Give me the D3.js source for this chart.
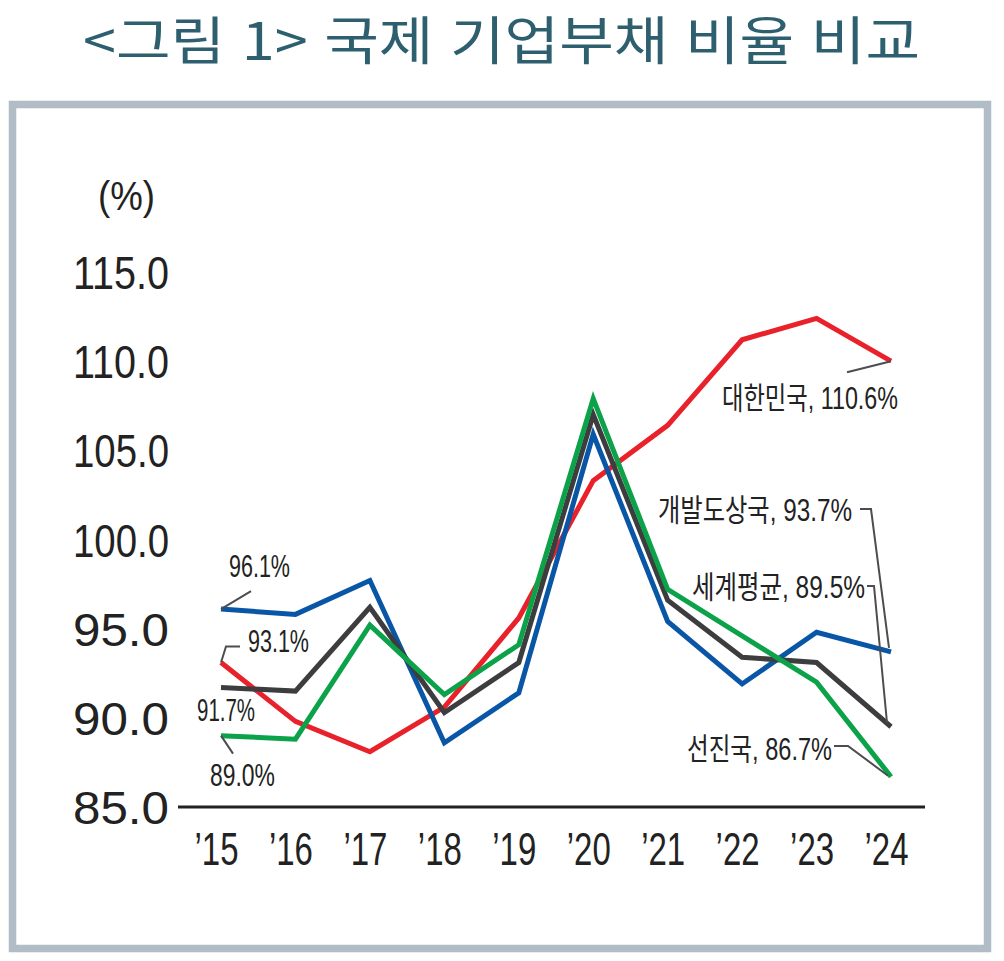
<!DOCTYPE html>
<html lang="ko">
<head>
<meta charset="utf-8">
<script src="https://cdn.jsdelivr.net/npm/d3@7"></script>
<style>
	html, body { margin: 0; padding: 0; background: #fff; }
	svg { display: block; }
</style>
</head>
<body>
<div id="chart"></div>
<script>
// ===== データ =====
const years = ['’15', '’16', '’17', '’18', '’19', '’20', '’21', '’22', '’23', '’24'];
const korea     = [93.1, 89.8, 88.1, 90.6, 95.6, 103.3, 106.4, 111.2, 112.4, 110.0];
const emerging  = [96.1, 95.8, 97.7, 88.6, 91.4, 105.9, 95.4, 91.9, 94.8, 93.7];
const world     = [91.7, 91.5, 96.2, 90.3, 93.1, 107.0, 96.6, 93.4, 93.1, 89.5];
const advanced  = [89.0, 88.8, 95.2, 91.3, 94.1, 107.9, 97.2, 94.6, 92.0, 86.7];
const yTicks = [85, 90, 95, 100, 105, 110, 115];
const seriesNames = ['대한민국', '개발도상국', '세계평균', '선진국'];
const endLabels = ['대한민국, 110.6%', '개발도상국, 93.7%', '세계평균, 89.5%', '선진국, 86.7%'];
const startLabels = ['93.1%', '96.1%', '91.7%', '89.0%'];

const W = 1004, H = 961;
const svg = d3.select('#chart').append('svg')
	.attr('width', W)
	.attr('height', H);

// タイトル
svg.append('text')
	.attr('x', 83)
	.attr('y', 60)
	.attr('font-family', '"Noto Sans CJK KR", sans-serif')
	.attr('font-size', 52)
	.attr('fill', '#2d5f6f')
	.attr('textLength', 837)
	.attr('lengthAdjust', 'spacingAndGlyphs')
	.text('<그림 1> 국제 기업부채 비율 비교');

// 枠
svg.append('rect')
	.attr('x', 12.5).attr('y', 104.5)
	.attr('width', 975).attr('height', 844)
	.attr('fill', '#fff')
	.attr('stroke', '#b1bcc7')
	.attr('stroke-width', 7.5);

// ===== スケール =====
const x = d3.scalePoint().domain(years).range([221, 891]);
const y = d3.scaleLinear().domain([85, 115]).range([807, 272]);

const numFont = '"Liberation Sans", Arial, sans-serif';

// 単位
svg.append('text')
	.attr('x', 98).attr('y', 210)
	.attr('font-family', numFont)
	.attr('font-size', 40)
	.attr('fill', '#222')
	.attr('textLength', 57)
	.attr('lengthAdjust', 'spacingAndGlyphs')
	.text('(%)');

// Y軸
const yAxis = svg.append('g')
	.attr('transform', 'translate(169,0)')
	.call(d3.axisLeft(y).tickValues(yTicks).tickSize(0).tickPadding(0).tickFormat(d3.format('.1f')));
yAxis.select('.domain').remove();
yAxis.selectAll('text')
	.attr('font-family', numFont)
	.attr('font-size', 46)
	.attr('fill', '#222')
	.attr('textLength', 96)
	.attr('lengthAdjust', 'spacingAndGlyphs')
	.attr('dy', '0.36em');

// X軸
svg.append('line')
	.attr('x1', 178).attr('x2', 925)
	.attr('y1', y(85)).attr('y2', y(85))
	.attr('stroke', '#222')
	.attr('stroke-width', 3);

const xAxis = svg.append('g')
	.attr('transform', `translate(0,${y(85)})`)
	.call(d3.axisBottom(x).tickSize(0).tickPadding(0));
xAxis.select('.domain').remove();
xAxis.selectAll('text')
	.attr('font-family', numFont)
	.attr('font-size', 47)
	.attr('fill', '#222')
	.attr('textLength', 44)
	.attr('lengthAdjust', 'spacingAndGlyphs')
	.attr('dx', -5)
	.attr('dy', 0)
	.attr('y', 58);

// ===== 折れ線 =====
const line = d3.line()
	.x((d, i) => x(years[i]))
	.y(d => y(d));

const series = [
	{ name: seriesNames[0], values: korea, color: '#e8212a' },
	{ name: seriesNames[1], values: emerging, color: '#0a56a6' },
	{ name: seriesNames[2], values: world, color: '#3d3d3f' },
	{ name: seriesNames[3], values: advanced, color: '#0ba24a' }
];

svg.append('g').selectAll('path')
	.data(series)
	.enter()
	.append('path')
	.attr('d', d => line(d.values))
	.attr('fill', 'none')
	.attr('stroke', d => d.color)
	.attr('stroke-width', 5)
	.attr('stroke-linejoin', 'miter');

// ===== 注記 =====
const first = years[0], last = years[years.length - 1];
const p0 = s => [x(first), y(series[s].values[0])];
const pN = s => [x(last), y(series[s].values[9])];

const leaders = [
	// 左側
	[p0(1), [p0(1)[0] + 30, p0(1)[1] - 18]],
	[p0(0), [p0(0)[0] + 5, p0(0)[1] - 16], [p0(0)[0] + 19, p0(0)[1] - 16]],
	[p0(3), [p0(3)[0] + 12, p0(3)[1] + 18]],
	// 右側
	[pN(0), [pN(0)[0] - 44, pN(0)[1] + 11]],
	[[860, 509], [871, 509], [pN(1)[0] - 2, pN(1)[1] - 4]],
	[[867, 586], [874, 586], [pN(2)[0] - 4, pN(2)[1] - 4]],
	[[834, 746], [848, 746], [pN(3)[0] - 3, pN(3)[1] - 1]]
];

svg.append('g').selectAll('path')
	.data(leaders)
	.enter()
	.append('path')
	.attr('d', d => d3.line()(d))
	.attr('fill', 'none')
	.attr('stroke', '#4d4d4f')
	.attr('stroke-width', 2);

const labelFont = '"Liberation Sans", "Noto Sans CJK KR", sans-serif';
const labels = [
	{ text: startLabels[1], x: 229, y: 577, w: 61 },
	{ text: startLabels[0], x: 248, y: 652, w: 61 },
	{ text: startLabels[2], x: 197, y: 721, w: 58 },
	{ text: startLabels[3], x: 210, y: 786, w: 65 },
	{ text: endLabels[0], x: 722, y: 409, w: 176 },
	{ text: endLabels[1], x: 658, y: 521, w: 194 },
	{ text: endLabels[2], x: 692, y: 598, w: 173 },
	{ text: endLabels[3], x: 687, y: 760, w: 145 }
];

svg.append('g').selectAll('text')
	.data(labels)
	.enter()
	.append('text')
	.attr('x', d => d.x)
	.attr('y', d => d.y)
	.attr('font-family', labelFont)
	.attr('font-size', 31)
	.attr('fill', '#222')
	.attr('textLength', d => d.w)
	.attr('lengthAdjust', 'spacingAndGlyphs')
	.text(d => d.text);
</script>
</body>
</html>
